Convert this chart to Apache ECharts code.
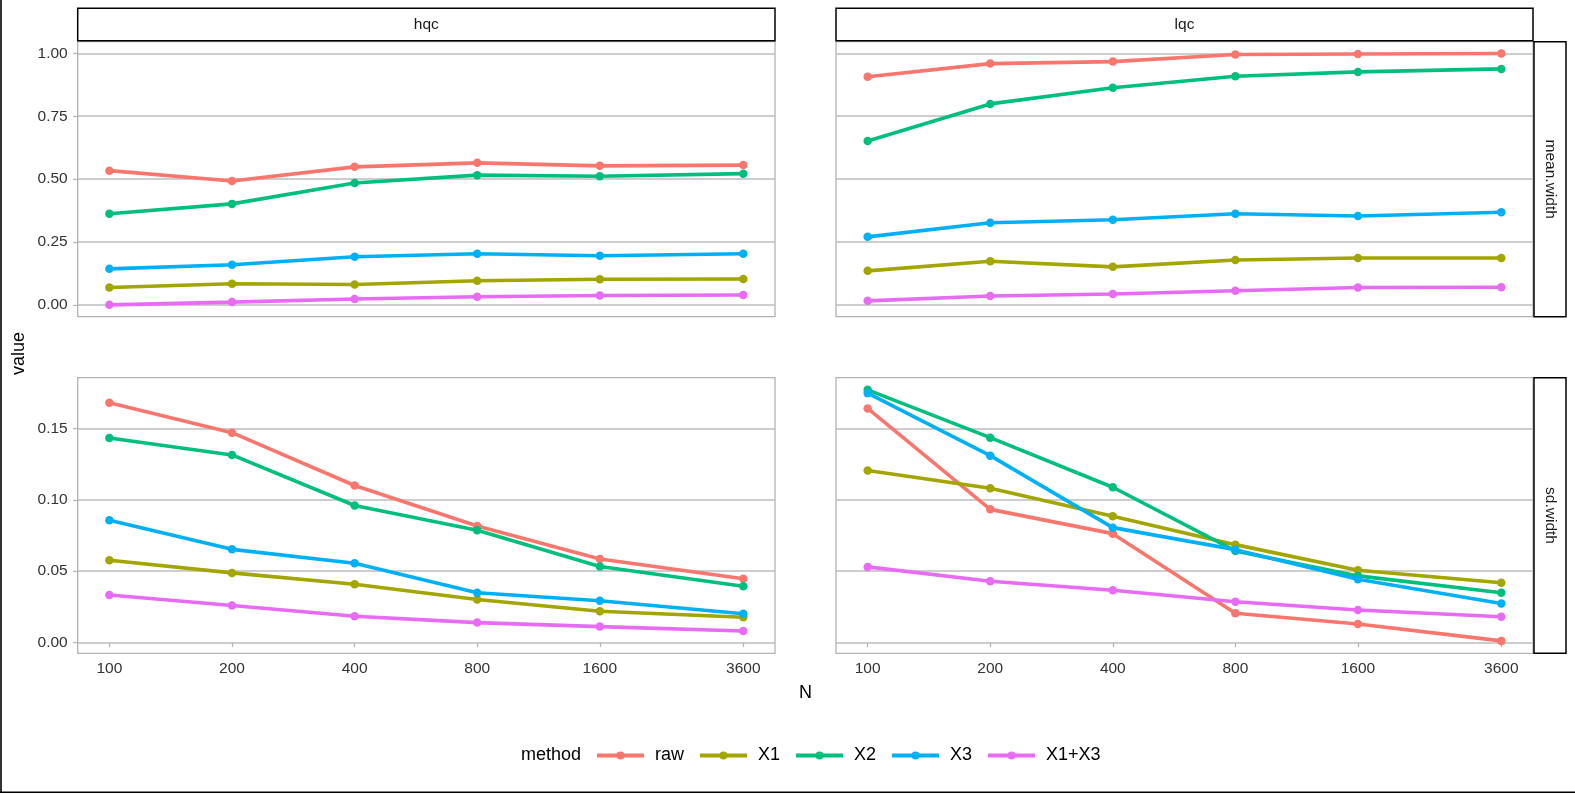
<!DOCTYPE html>
<html>
<head>
<meta charset="utf-8">
<script src="https://cdn.jsdelivr.net/npm/echarts@6/dist/echarts.min.js"></script>
<style>
  html, body { margin: 0; padding: 0; background: #fff; }
  #main { width: 1575px; height: 794px; }
</style>
</head>
<body>
<div id="main"></div>
<script>
// categories
var N = [100, 200, 400, 800, 1600, 3600];
var methods = ["raw", "X1", "X2", "X3", "X1+X3"];
var colors = ["#F8766D", "#A3A500", "#00BF7D", "#00B0F6", "#E76BF3"];

// one row per method (raw, X1, X2, X3, X1+X3)
var hqcMean = [
    [0.534, 0.493, 0.549, 0.565, 0.553, 0.556],
    [0.070, 0.085, 0.082, 0.097, 0.103, 0.104],
    [0.363, 0.402, 0.485, 0.516, 0.512, 0.522],
    [0.144, 0.160, 0.192, 0.204, 0.196, 0.204],
    [0.001, 0.012, 0.024, 0.033, 0.038, 0.040]
];
var lqcMean = [
    [0.907, 0.959, 0.967, 0.995, 0.997, 0.999],
    [0.136, 0.174, 0.152, 0.179, 0.187, 0.187],
    [0.652, 0.799, 0.863, 0.909, 0.926, 0.938],
    [0.271, 0.327, 0.339, 0.363, 0.354, 0.369],
    [0.017, 0.036, 0.044, 0.057, 0.070, 0.071]
];
var hqcSd = [
    [0.1680, 0.1470, 0.1100, 0.0816, 0.0586, 0.0447],
    [0.0577, 0.0488, 0.0409, 0.0302, 0.0219, 0.0177],
    [0.1433, 0.1314, 0.0960, 0.0786, 0.0533, 0.0395],
    [0.0856, 0.0653, 0.0556, 0.0349, 0.0293, 0.0202],
    [0.0333, 0.0260, 0.0184, 0.0140, 0.0112, 0.0081]
];
var lqcSd = [
    [0.1640, 0.0933, 0.0763, 0.0205, 0.0130, 0.0012],
    [0.1205, 0.1081, 0.0884, 0.0686, 0.0507, 0.0419],
    [0.1770, 0.1435, 0.1088, 0.0642, 0.0467, 0.0349],
    [0.1747, 0.1309, 0.0805, 0.0651, 0.0444, 0.0274],
    [0.0530, 0.0430, 0.0367, 0.0286, 0.0228, 0.0181]
];

// tick labels
var meanTicks = [0, 0.25, 0.5, 0.75, 1.0];
var sdTicks = [0, 0.05, 0.10, 0.15];

var FONT = "'Liberation Sans', Arial, sans-serif";
var GRID_COL = "#bdbdbd";

// x on a log2 scale, padded 5% like ggplot
var xLog = N.map(function (n) { return Math.log2(n); });
var xPad = 0.05 * (xLog[xLog.length - 1] - xLog[0]);
var xMin = xLog[0] - xPad, xMax = xLog[xLog.length - 1] + xPad;

var grids = [
    {left: 77.7, top: 41.7, width: 697.3, height: 275},
    {left: 836, top: 41.7, width: 697, height: 275},
    {left: 77.7, top: 377.7, width: 697.3, height: 275.6},
    {left: 836, top: 377.7, width: 697, height: 275.6}
];
grids.forEach(function (g) {
    g.show = true;
    g.borderColor = "#b3b3b3";
    g.borderWidth = 1.3;
    g.backgroundColor = "#fff";
    g.containLabel = false;
});

function makeX(i, showLabels) {
    return {
        type: "value", gridIndex: i, min: xMin, max: xMax,
        axisLine: {show: false},
        splitLine: {show: false},
        axisTick: {show: showLabels, customValues: xLog, length: 4.5, lineStyle: {color: "#b3b3b3", width: 1.2}},
        axisLabel: {
            show: showLabels, customValues: xLog, margin: 7,
            fontFamily: FONT, fontSize: 15.5, color: "#333",
            formatter: function (v) { return String(Math.round(Math.pow(2, v))); }
        }
    };
}

function makeY(i, min, max, ticks, showLabels) {
    return {
        type: "value", gridIndex: i, min: min, max: max,
        axisLine: {show: false},
        splitLine: {show: true, lineStyle: {color: GRID_COL, width: 1.6}},
        axisTick: {show: showLabels, customValues: ticks, length: 4.5, lineStyle: {color: "#b3b3b3", width: 1.2}},
        axisLabel: {
            show: showLabels, customValues: ticks, margin: 10,
            fontFamily: FONT, fontSize: 15.5, color: "#333",
            formatter: function (v) { return v.toFixed(2); }
        }
    };
}

var xAxes = [makeX(0, false), makeX(1, false), makeX(2, true), makeX(3, true)];
var yAxes = [
    makeY(0, -0.046, 1.046, meanTicks, true),
    makeY(1, -0.046, 1.046, meanTicks, false),
    makeY(2, -0.0075, 0.1855, sdTicks, true),
    makeY(3, -0.0075, 0.1855, sdTicks, false)
];

var panels = [hqcMean, lqcMean, hqcSd, lqcSd];
var series = [];
panels.forEach(function (panel, p) {
    methods.forEach(function (m, k) {
        series.push({
            name: m,
            type: "line",
            xAxisIndex: p,
            yAxisIndex: p,
            data: N.map(function (n, j) { return [xLog[j], panel[k][j]]; }),
            symbol: "circle",
            symbolSize: 8.5,
            showSymbol: true,
            color: colors[k],
            lineStyle: {width: 3.6, color: colors[k]},
            itemStyle: {color: colors[k]},
            z: 2 + k
        });
    });
});

function strip(x, y, w, h, label, vertical) {
    return [
        {type: "rect", shape: {x: x, y: y, width: w, height: h},
            style: {fill: "#fff", stroke: "#000", lineWidth: 1.5}, z: 10},
        {type: "text", x: x + w / 2, y: y + h / 2, rotation: vertical ? -Math.PI / 2 : 0,
            style: {text: label, font: "15.5px " + FONT, fill: "#1a1a1a", align: "center", verticalAlign: "middle"}, z: 11}
    ];
}

var graphics = []
    .concat(strip(77.7, 8.3, 697.3, 32.4, "hqc", false))
    .concat(strip(836, 8.3, 697, 32.4, "lqc", false))
    .concat(strip(1534, 41.7, 32, 275, "mean.width", true))
    .concat(strip(1534, 377.7, 32, 275.6, "sd.width", true))
    .concat([
        {type: "text", x: 18.6, y: 353.6, rotation: Math.PI / 2,
            style: {text: "value", font: "18px " + FONT, fill: "#000", align: "center", verticalAlign: "middle"}},
        {type: "text", x: 805.4, y: 693,
            style: {text: "N", font: "18px " + FONT, fill: "#000", align: "center", verticalAlign: "middle"}},
        {type: "text", x: 581, y: 755,
            style: {text: "method", font: "18px " + FONT, fill: "#000", align: "right", verticalAlign: "middle"}},
        {type: "line", shape: {x1: 1, y1: 0, x2: 1, y2: 792}, style: {stroke: "#000", lineWidth: 1.6}},
        {type: "line", shape: {x1: 0, y1: 792.2, x2: 1575, y2: 792.2}, style: {stroke: "#000", lineWidth: 1.6}}
    ]);

var chart = echarts.init(document.getElementById("main"), null, {renderer: "canvas"});
chart.setOption({
    animation: false,
    backgroundColor: "#fff",
    grid: grids,
    xAxis: xAxes,
    yAxis: yAxes,
    legend: {
        data: methods,
        left: 595,
        top: 746.5,
        padding: 0,
        itemWidth: 47,
        itemHeight: 10,
        itemGap: 14,
        lineStyle: {width: 4},
        textStyle: {fontFamily: FONT, fontSize: 18, color: "#000", padding: [0, 0, 0, 6]}
    },
    series: series,
    graphic: graphics
});
</script>
</body>
</html>
